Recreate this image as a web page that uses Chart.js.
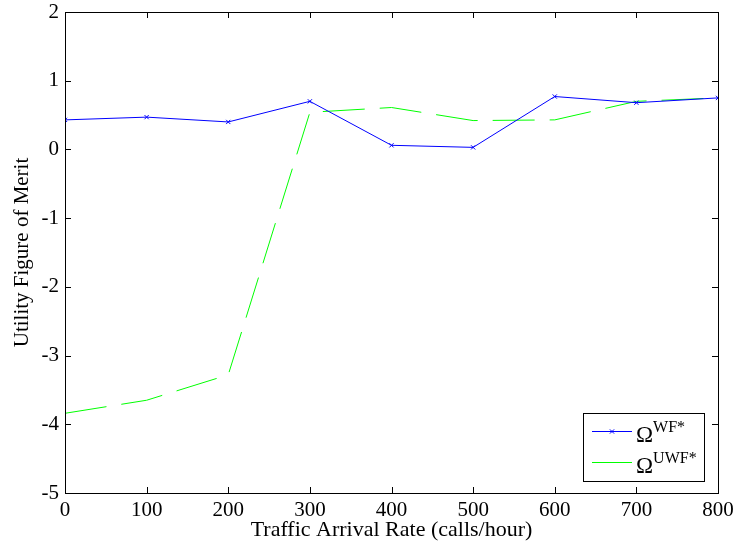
<!DOCTYPE html>
<html>
<head>
<meta charset="utf-8">
<script src="https://cdn.jsdelivr.net/npm/chart.js@4"></script>
<style>
  html, body { margin: 0; padding: 0; background: #fff; }
  #wrap { width: 734px; height: 548px; }
</style>
</head>
<body>
<div id="wrap"><canvas id="glapharea"></canvas></div>
<script>
// arrival rates (calls/hour)
var rates = [0, 100, 200, 300, 400, 500, 600, 700, 800];
// utility figure of merit
var omegaWF  = [0.43, 0.47, 0.40, 0.70, 0.06, 0.03, 0.77, 0.68, 0.75];
var omegaUWF = [-3.84, -3.65, -3.28, 0.54, 0.61, 0.42, 0.43, 0.70, 0.75];
var xTicks = [0, 100, 200, 300, 400, 500, 600, 700, 800];
var yTicks = [-5, -4, -3, -2, -1, 0, 1, 2];
var legendNames = [["\u03A9", "WF*"], ["\u03A9", "UWF*"]];

function toPoints(vals) {
    var hairetu = [];
    for (var i = 0; i < rates.length; i++) {
        hairetu.push({x: rates[i], y: vals[i]});
    }
    return hairetu;
}

var serif = "'Liberation Serif', 'Times New Roman', serif";

// inward ticks on all four sides + box + legend, matlab style
var matlabBox = {
    id: 'matlabBox',
    afterDraw: function(chart) {
        var ctx = chart.ctx, a = chart.chartArea;
        var sx = chart.scales.x, sy = chart.scales.y;
        ctx.save();
        ctx.strokeStyle = '#000';
        ctx.lineWidth = 1;
        ctx.strokeRect(Math.round(a.left) + 0.5, Math.round(a.top) + 0.5,
                       Math.round(a.right - a.left), Math.round(a.bottom - a.top));
        ctx.beginPath();
        xTicks.forEach(function(v) {
            var px = Math.round(sx.getPixelForValue(v)) + 0.5;
            ctx.moveTo(px, a.bottom); ctx.lineTo(px, a.bottom - 6);
            ctx.moveTo(px, a.top); ctx.lineTo(px, a.top + 6);
        });
        yTicks.forEach(function(v) {
            var py = Math.round(sy.getPixelForValue(v)) + 0.5;
            ctx.moveTo(a.left, py); ctx.lineTo(a.left + 6, py);
            ctx.moveTo(a.right, py); ctx.lineTo(a.right - 6, py);
        });
        ctx.stroke();

        // legend
        var bx = 583, by = 413, bw = 121, bh = 68;
        ctx.fillStyle = '#fff';
        ctx.fillRect(bx, by, bw, bh);
        ctx.strokeRect(bx + 0.5, by + 0.5, bw, bh);
        chart.data.datasets.forEach(function(ds, i) {
            var ly = by + 18 + i * 31;
            ctx.save();
            ctx.strokeStyle = ds.borderColor;
            ctx.lineWidth = 1;
            ctx.beginPath();
            ctx.moveTo(592, ly + 0.5); ctx.lineTo(632, ly + 0.5);
            ctx.stroke();
            if (ds.pointRadius > 0) {
                Chart.helpers.drawPoint(ctx, {pointStyle: 'crossRot', radius: 3, borderWidth: 1}, 612, ly + 0.5);
            }
            ctx.restore();
            ctx.fillStyle = '#000';
            ctx.textBaseline = 'alphabetic';
            ctx.font = '23px ' + serif;
            ctx.fillText(legendNames[i][0], 636, ly + 11);
            var w = ctx.measureText(legendNames[i][0]).width;
            ctx.font = '16px ' + serif;
            ctx.fillText(legendNames[i][1], 636 + w, ly + 1);
        });
        ctx.restore();
    }
};

var glapharea = document.getElementById("glapharea").getContext('2d');
var glaph = new Chart(glapharea, {
    type: 'line',
    data: {
        datasets: [
            {
                label: "\u03A9WF*",
                borderColor: "#0000ff",
                backgroundColor: "#0000ff",
                borderWidth: 1,
                pointStyle: 'crossRot',
                pointRadius: 3,
                pointBorderWidth: 1,
                data: toPoints(omegaWF)
            }, {
                label: "\u03A9UWF*",
                borderColor: "#00ff00",
                backgroundColor: "#00ff00",
                borderWidth: 1,
                borderDash: [42, 15],
                pointRadius: 0,
                data: toPoints(omegaUWF)
            }
        ]
    },
    options: {
        responsive: true,
        maintainAspectRatio: false,
        animation: false,
        layout: { padding: { top: 12, right: 16, left: 0, bottom: 0 } },
        plugins: {
            legend: { display: false },
            tooltip: { enabled: false }
        },
        elements: {
            line: { tension: 0 }
        },
        scales: {
            x: {
                type: 'linear',
                min: 0, max: 800,
                afterBuildTicks: function(s) { s.ticks = xTicks.map(function(v) { return {value: v}; }); },
                afterFit: function(s) { s.height = 55; s.paddingLeft = 0; s.paddingRight = 0; },
                grid: { display: false, drawTicks: false },
                border: { display: false },
                ticks: {
                    color: '#000',
                    padding: 5,
                    maxRotation: 0,
                    font: { family: serif, size: 21 }
                },
                title: {
                    display: true,
                    text: 'Traffic Arrival Rate (calls/hour)',
                    color: '#000',
                    padding: { top: 0, bottom: 5 },
                    font: { family: serif, size: 22 }
                }
            },
            y: {
                type: 'linear',
                min: -5, max: 2,
                afterBuildTicks: function(s) { s.ticks = yTicks.map(function(v) { return {value: v}; }); },
                afterFit: function(s) { s.width = 65; s.paddingTop = 0; s.paddingBottom = 0; },
                grid: { display: false, drawTicks: false },
                border: { display: false },
                ticks: {
                    color: '#000',
                    padding: 6,
                    font: { family: serif, size: 21 }
                },
                title: {
                    display: true,
                    text: 'Utility Figure of Merit',
                    color: '#000',
                    padding: { top: 10, bottom: 10 },
                    font: { family: serif, size: 21 }
                }
            }
        }
    },
    plugins: [matlabBox]
});
</script>
</body>
</html>
